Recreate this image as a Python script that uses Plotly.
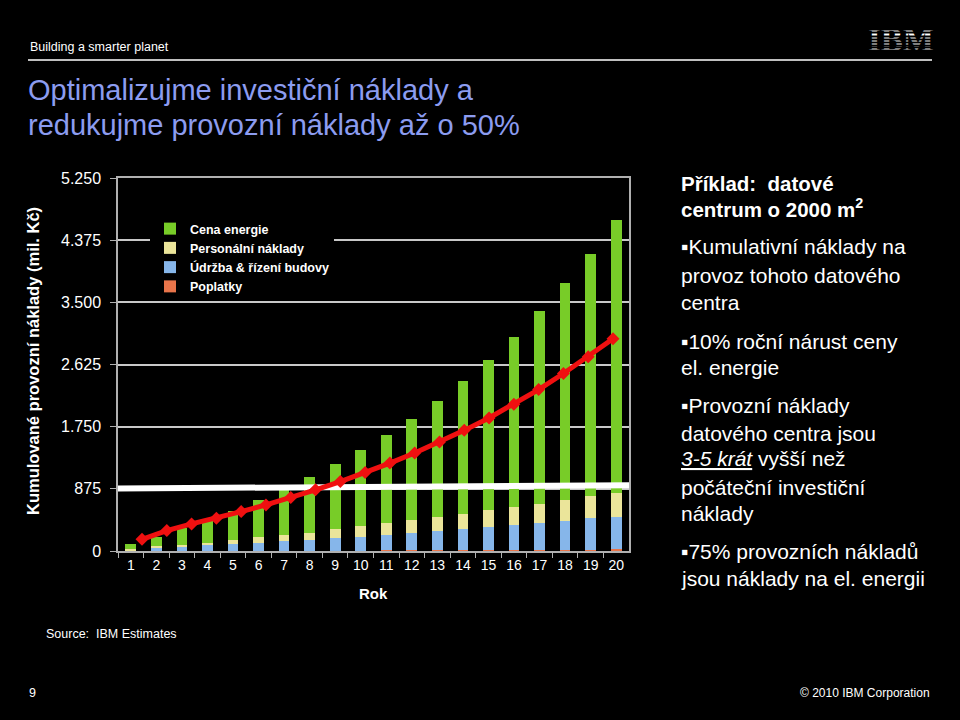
import plotly.graph_objects as go

# Data (mil. Kč, cumulative)
years = list(range(1, 21))
poplatky = [2, 2, 3, 3, 4, 4, 5, 5, 6, 7, 8, 9, 10, 11, 13, 14, 16, 18, 20, 25]
udrzba = [8, 45, 55, 75, 93, 113, 131, 150, 179, 197, 216, 249, 272, 295, 327, 350, 382, 405, 442, 455]
personalni = [20, 23, 29, 35, 55, 75, 85, 105, 120, 145, 165, 180, 195, 220, 235, 255, 270, 295, 310, 335]
energie = [69, 132, 233, 324, 417, 528, 659, 780, 923, 1067, 1244, 1425, 1640, 1873, 2116, 2397, 2715, 3054, 3415, 3847]
red_line = [165, 287, 381, 461, 555, 649, 752, 861, 978, 1105, 1237, 1379, 1534, 1698, 1873, 2065, 2272, 2498, 2734, 2988]
investice = [880, 925]  # white line, initial investment

y_ticks = [0, 875, 1750, 2625, 3500, 4375, 5250]
y_ticktext = ["0", "875", "1.750", "2.625", "3.500", "4.375", "5.250"]

W, H = 960, 720
FONT = "Liberation Sans, Arial, sans-serif"


def px(x):
    return x / W


def py(y):
    return 1 - y / H


fig = go.Figure()

series = [
    ("Poplatky", poplatky, "#e8744a"),
    ("Údržba & řízení budovy", udrzba, "#86b6ea"),
    ("Personální náklady", personalni, "#ebe59a"),
    ("Cena energie", energie, "#78cc28"),
]
for name, vals, col in series:
    fig.add_trace(go.Bar(x=years, y=vals, name=name, marker_color=col,
                         marker_line_width=0))

# second x axis for the lines (offset from the bars as in the slide)
x2_range = [0.032, 20.645]
fig.add_trace(go.Scatter(x=x2_range, y=investice, mode="lines", xaxis="x2",
                         line=dict(color="white", width=6), showlegend=False,
                         hoverinfo="skip"))
fig.add_trace(go.Scatter(x=years, y=red_line, mode="lines+markers", xaxis="x2",
                         line=dict(color="#f01010", width=5),
                         marker=dict(symbol="diamond", size=10, color="#f01010"),
                         showlegend=False))

fig.update_layout(
    width=W, height=H, autosize=False,
    margin=dict(l=0, r=0, t=0, b=0),
    paper_bgcolor="black", plot_bgcolor="black",
    barmode="stack", bargap=0.58,
    font=dict(family=FONT, color="white"),
    legend=dict(x=px(150), y=py(214), xanchor="left", yanchor="top",
                bgcolor="black", traceorder="reversed", itemwidth=30,
                font=dict(size=12.5, color="white", family=FONT, weight="bold")),
    xaxis=dict(domain=[px(118), px(629)], type="category", range=[-0.5, 19.5],
               showgrid=False, showline=True, linecolor="#b0b0b0", linewidth=1.5,
               mirror=True, ticks="outside", tickson="boundaries", ticklen=5,
               tickcolor="#b0b0b0", tickfont=dict(size=14, color="white"),
               automargin=False),
    xaxis2=dict(overlaying="x", range=x2_range, visible=False),
    yaxis=dict(domain=[py(551), py(178)], range=[0, 5250],
               tickvals=y_ticks, ticktext=y_ticktext,
               showgrid=True, gridcolor="#c8c8c8", gridwidth=1.5,
               showline=True, linecolor="#b0b0b0", linewidth=1.5, mirror=True,
               ticks="outside", ticklen=6, tickcolor="#b0b0b0",
               ticklabelstandoff=6,
               tickfont=dict(size=16, color="white"), zeroline=False,
               automargin=False),
    showlegend=True,
)

shapes = [
    # header rule
    dict(type="line", xref="paper", yref="paper", x0=px(28), x1=px(932),
         y0=py(60), y1=py(60), line=dict(color="white", width=1.5)),
    # black patch behind the legend (breaks the grid lines)
    dict(type="rect", xref="paper", yref="paper", x0=px(151), x1=px(400),
         y0=py(312), y1=py(222), fillcolor="black", line_width=0,
         layer="between"),
]
fig.update_layout(shapes=shapes)

ann = []


def text(x, y, s, size, color="white", anchor="left", bold=False, family=FONT, **kw):
    ann.append(dict(x=px(x), y=py(y), xref="paper", yref="paper", text=s,
                    showarrow=False, xanchor=anchor, yanchor="middle",
                    font=dict(size=size, color=color, family=family,
                              weight="bold" if bold else "normal"), **kw))


text(28, 47, "Building a smarter planet", 12.5)
text(26, 90, "Optimalizujme investiční náklady a", 29, color="#8c9cf0")
text(26, 125, "redukujme provozní náklady až o 50%", 29, color="#8c9cf0")

# IBM logo: bold letters cut by black stripes
text(901, 40, "IBM", 33, anchor="center", bold=True,
     family="Liberation Serif, serif")
for sy in range(30, 52, 3):
    ann.append(dict(x=px(901), y=py(sy), xref="paper", yref="paper", text=" ",
                    showarrow=False, xanchor="center", yanchor="middle",
                    width=80, height=1, bgcolor="black", borderpad=0,
                    font=dict(size=1)))

text(33, 361, "Kumulované provozní náklady (mil. Kč)", 16.5, bold=True,
     textangle=-90, anchor="center")
text(373, 593, "Rok", 15, bold=True, anchor="center")

right_lines = [
    (183, "Příklad:  datové", True),
    (208, "centrum o 2000 m<sup>2</sup>", True),
    (246, "▪Kumulativní náklady na", False),
    (275, "provoz tohoto datového", False),
    (302, "centra", False),
    (341, "▪10% roční nárust ceny", False),
    (367, "el. energie", False),
    (405, "▪Provozní náklady", False),
    (433, "datového centra jsou", False),
    (459, "<i><u>3-5 krát</u></i> vyšší než", False),
    (487, "počáteční investiční", False),
    (513, "náklady", False),
    (551, "▪75% provozních nákladů", False),
    (578, "jsou náklady na el. energii", False),
]
for y, s, b in right_lines:
    text(679, y, s, 21 if not b else 20.5, bold=b)

text(44, 634, "Source:  IBM Estimates", 12.5)
text(27, 693, "9", 12.5)
text(932, 693, "© 2010 IBM Corporation", 12, anchor="right")

fig.update_layout(annotations=ann)

fig.write_html("out.html", config={"displayModeBar": False},
               post_script="document.body.style.margin='0';"
                           "document.body.style.background='black';")
